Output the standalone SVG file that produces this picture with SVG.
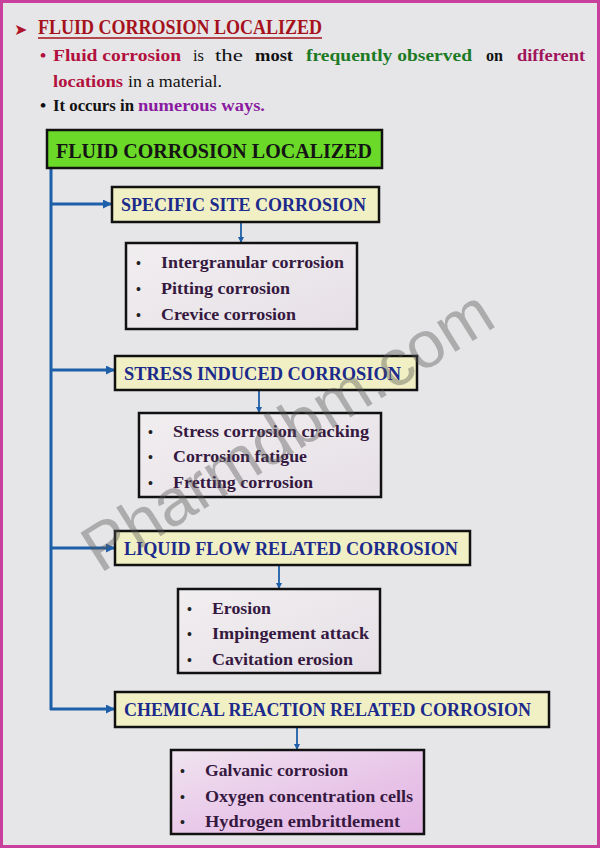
<svg xmlns="http://www.w3.org/2000/svg" width="600" height="848" viewBox="0 0 600 848">
<defs>
<marker id="ah" markerWidth="9" markerHeight="9" refX="8" refY="4.5" orient="auto" markerUnits="userSpaceOnUse">
<path d="M0,0 L9,4.5 L0,9 Z" fill="#1d5fa8"/>
</marker>
<marker id="ahs" markerWidth="6" markerHeight="6" refX="5" refY="3" orient="auto" markerUnits="userSpaceOnUse">
<path d="M0,0 L6,3 L0,6 Z" fill="#1d5fa8"/>
</marker>
<linearGradient id="pinkg" x1="0" y1="0" x2="1" y2="1">
<stop offset="0" stop-color="#efe4ef"/>
<stop offset="0.6" stop-color="#e8c4e8"/>
<stop offset="1" stop-color="#e3b4e3"/>
</linearGradient>
<linearGradient id="boxg" x1="0" y1="0" x2="1" y2="1">
<stop offset="0" stop-color="#f1eef0"/>
<stop offset="1" stop-color="#e6e0e6"/>
</linearGradient>
</defs>
<style>
.h1{font-family:"Liberation Serif",serif;font-weight:bold;font-size:21px;fill:#a5121c;}
.p{font-family:"Liberation Serif",serif;font-size:17.5px;}
.b{font-weight:bold;}
.crim{fill:#b2113e;}
.grn{fill:#1d7a24;}
.mag{fill:#a0145a;}
.pur{fill:#8a1aa0;}
.blk{fill:#111;}
.main{fill:#6ad928;stroke:#111;stroke-width:2.5;}
.maint{font-family:"Liberation Serif",serif;font-weight:bold;font-size:21.5px;fill:#141414;}
.cat{fill:#f0f0c4;stroke:#111;stroke-width:2.5;}
.catt{font-family:"Liberation Serif",serif;font-weight:bold;font-size:19px;fill:#1c2a8c;}
.lst{stroke:#111;stroke-width:2.5;}
.it{font-family:"Liberation Serif",serif;font-weight:bold;font-size:16.5px;fill:#35183f;}
.bul{font-family:"Liberation Sans",sans-serif;font-size:14px;fill:#222;}
.conn{stroke:#1d5fa8;fill:none;}
</style>
<rect x="0" y="0" width="600" height="848" fill="#e6e6e8"/>
<rect x="1.5" y="1.5" width="597" height="845" fill="none" stroke="#c8409c" stroke-width="3"/>

<g id="intro">
<text x="14" y="35" font-family="DejaVu Sans,sans-serif" font-size="16" fill="#b0122a">➤</text>
<text x="38" y="34" class="h1" textLength="284" lengthAdjust="spacingAndGlyphs">FLUID CORROSION LOCALIZED</text>
<line x1="38" y1="38" x2="322" y2="38" stroke="#a5121c" stroke-width="1.5"/>
<text x="40" y="61" class="p b crim">•</text>
<text x="53" y="61" class="p b crim" textLength="128" lengthAdjust="spacingAndGlyphs">Fluid  corrosion</text>
<text x="193" y="61" class="p blk" textLength="11" lengthAdjust="spacingAndGlyphs">is</text>
<text x="215" y="61" class="p blk" textLength="28" lengthAdjust="spacingAndGlyphs">the</text>
<text x="255" y="61" class="p b blk" textLength="38" lengthAdjust="spacingAndGlyphs">most</text>
<text x="306" y="61" class="p b grn" textLength="166" lengthAdjust="spacingAndGlyphs">frequently  observed</text>
<text x="486" y="61" class="p b blk" textLength="17" lengthAdjust="spacingAndGlyphs">on</text>
<text x="517" y="61" class="p b mag" textLength="68" lengthAdjust="spacingAndGlyphs">different</text>
<text x="53" y="87" class="p b crim" textLength="70" lengthAdjust="spacingAndGlyphs">locations</text>
<text x="128" y="87" class="p blk" textLength="94" lengthAdjust="spacingAndGlyphs">in a material.</text>
<text x="40" y="111" class="p b blk">•</text>
<text x="53" y="111" class="p blk" font-weight="600" textLength="81" lengthAdjust="spacingAndGlyphs">It occurs in</text>
<text x="138" y="111" class="p b pur" textLength="127" lengthAdjust="spacingAndGlyphs">numerous ways.</text>
</g>

<g id="connectors">
<line class="conn" x1="51" y1="168" x2="51" y2="710" stroke-width="3"/>
<line class="conn" x1="50" y1="204" x2="111" y2="204" stroke-width="3" marker-end="url(#ah)"/>
<line class="conn" x1="50" y1="370" x2="114" y2="370" stroke-width="3" marker-end="url(#ah)"/>
<line class="conn" x1="50" y1="548" x2="114" y2="548" stroke-width="3" marker-end="url(#ah)"/>
<line class="conn" x1="50" y1="709" x2="114" y2="709" stroke-width="3" marker-end="url(#ah)"/>
<line class="conn" x1="241" y1="223" x2="241" y2="242" stroke-width="1.8" marker-end="url(#ahs)"/>
<line class="conn" x1="259" y1="391" x2="259" y2="412" stroke-width="1.8" marker-end="url(#ahs)"/>
<line class="conn" x1="279" y1="566" x2="279" y2="588" stroke-width="1.8" marker-end="url(#ahs)"/>
<line class="conn" x1="297" y1="728" x2="297" y2="749" stroke-width="1.8" marker-end="url(#ahs)"/>
</g>

<g id="root">
<rect x="47" y="130" width="335" height="38" class="main"/>
<text x="56" y="158" class="maint" textLength="316" lengthAdjust="spacingAndGlyphs">FLUID CORROSION LOCALIZED</text>
</g>

<g id="specific">
<rect x="112" y="187" width="267" height="35" class="cat"/>
<text x="121" y="211" class="catt" textLength="245" lengthAdjust="spacingAndGlyphs">SPECIFIC SITE CORROSION</text>
</g>
<g id="specific-list">
<rect x="126" y="243" width="231" height="86" fill="url(#boxg)" class="lst"/>
<text x="136" y="268" class="bul">•</text><text x="161" y="268" class="it" textLength="183" lengthAdjust="spacingAndGlyphs">Intergranular corrosion</text>
<text x="136" y="294" class="bul">•</text><text x="161" y="294" class="it" textLength="129" lengthAdjust="spacingAndGlyphs">Pitting corrosion</text>
<text x="136" y="320" class="bul">•</text><text x="161" y="320" class="it" textLength="135" lengthAdjust="spacingAndGlyphs">Crevice corrosion</text>
</g>

<g id="stress">
<rect x="115" y="356" width="302" height="34" class="cat"/>
<text x="124" y="380" class="catt" textLength="277" lengthAdjust="spacingAndGlyphs">STRESS INDUCED CORROSION</text>
</g>
<g id="stress-list">
<rect x="139" y="413" width="242" height="84" fill="url(#boxg)" class="lst"/>
<text x="148" y="437" class="bul">•</text><text x="173" y="437" class="it" textLength="196" lengthAdjust="spacingAndGlyphs">Stress corrosion cracking</text>
<text x="148" y="462" class="bul">•</text><text x="173" y="462" class="it" textLength="134" lengthAdjust="spacingAndGlyphs">Corrosion fatigue</text>
<text x="148" y="488" class="bul">•</text><text x="173" y="488" class="it" textLength="140" lengthAdjust="spacingAndGlyphs">Fretting corrosion</text>
</g>

<g id="liquid">
<rect x="115" y="531" width="355" height="34" class="cat"/>
<text x="124" y="555" class="catt" textLength="334" lengthAdjust="spacingAndGlyphs">LIQUID FLOW RELATED CORROSION</text>
</g>
<g id="liquid-list">
<rect x="178" y="589" width="202" height="84" fill="url(#boxg)" class="lst"/>
<text x="187" y="614" class="bul">•</text><text x="212" y="614" class="it" textLength="59" lengthAdjust="spacingAndGlyphs">Erosion</text>
<text x="187" y="639" class="bul">•</text><text x="212" y="639" class="it" textLength="157" lengthAdjust="spacingAndGlyphs">Impingement attack</text>
<text x="187" y="665" class="bul">•</text><text x="212" y="665" class="it" textLength="141" lengthAdjust="spacingAndGlyphs">Cavitation erosion</text>
</g>

<g id="chemical">
<rect x="115" y="692" width="434" height="35" class="cat"/>
<text x="124" y="716" class="catt" textLength="407" lengthAdjust="spacingAndGlyphs">CHEMICAL REACTION RELATED CORROSION</text>
</g>
<g id="chemical-list">
<rect x="171" y="750" width="253" height="84" fill="url(#pinkg)" class="lst"/>
<text x="180" y="776" class="bul">•</text><text x="205" y="776" class="it" textLength="143" lengthAdjust="spacingAndGlyphs">Galvanic corrosion</text>
<text x="180" y="802" class="bul">•</text><text x="205" y="802" class="it" textLength="208" lengthAdjust="spacingAndGlyphs">Oxygen concentration cells</text>
<text x="180" y="827" class="bul">•</text><text x="205" y="827" class="it" textLength="195" lengthAdjust="spacingAndGlyphs">Hydrogen embrittlement</text>
</g>

<text x="100" y="574" transform="rotate(-32 100 574)" font-family="Liberation Sans,Arial,sans-serif" font-size="66" fill="#555" fill-opacity="0.4" textLength="470" lengthAdjust="spacingAndGlyphs">Pharmdbm.com</text>
</svg>
